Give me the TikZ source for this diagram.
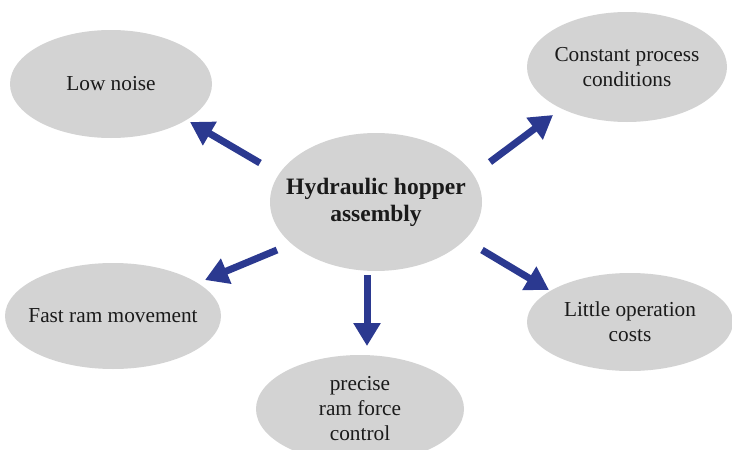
\documentclass[tikz,border=0pt]{standalone}
\usepackage{fontspec}
\setmainfont{Liberation Serif}
\usetikzlibrary{arrows.meta,shapes.geometric}

\definecolor{bubblegray}{HTML}{D3D3D3}
\definecolor{arrowblue}{HTML}{2B3990}
\definecolor{textdark}{HTML}{1A1A1A}

\begin{document}
\begin{tikzpicture}[x=1pt,y=-1pt,
		bubble/.style={ellipse,fill=bubblegray,inner xsep=-20pt,inner ysep=-10pt,
			align=center,text=textdark,font=\fontsize{21.3}{25}\selectfont},
		hubarrow/.style={draw=arrowblue,line width=7pt,
			-{Triangle[width=26pt,length=23pt]}}]
				\useasboundingbox (0,0) rectangle (732,450);
				\clip (0,0) rectangle (732,450);

				% hub and leaves
				\node[bubble,minimum width=212pt,minimum height=138pt,
					font=\fontsize{23.5}{27}\selectfont\bfseries] (hub) at (376,202)
					{Hydraulic hopper\\assembly};
				\node[bubble,minimum width=202pt,minimum height=108pt] (noise) at (111,84) {Low noise};
				\node[bubble,minimum width=200pt,minimum height=110pt] (process) at (627,67)
					{Constant process\\conditions};
				\node[bubble,minimum width=216pt,minimum height=106pt] (ram) at (113,316) {Fast ram movement};
				\node[bubble,minimum width=206pt,minimum height=98pt] (costs) at (630,322)
					{Little operation\\costs};
				\node[bubble,minimum width=208pt,minimum height=108pt] (force) at (360,409)
					{precise\\ram force\\control};

				% arrow ends
				\coordinate (n1) at (260,163);
				\coordinate (n2) at (190,122);
				\coordinate (p1) at (490,162);
				\coordinate (p2) at (553,115);
				\coordinate (r1) at (277,250);
				\coordinate (r2) at (205,280);
				\coordinate (f1) at (367,275);
				\coordinate (f2) at (367,346);
				\coordinate (c1) at (482,250);
				\coordinate (c2) at (549,290);

				\draw[hubarrow] (n1) -- (n2);
				\draw[hubarrow] (p1) -- (p2);
				\draw[hubarrow] (r1) -- (r2);
				\draw[hubarrow] (f1) -- (f2);
				\draw[hubarrow] (c1) -- (c2);
			\end{tikzpicture}
\end{document}
